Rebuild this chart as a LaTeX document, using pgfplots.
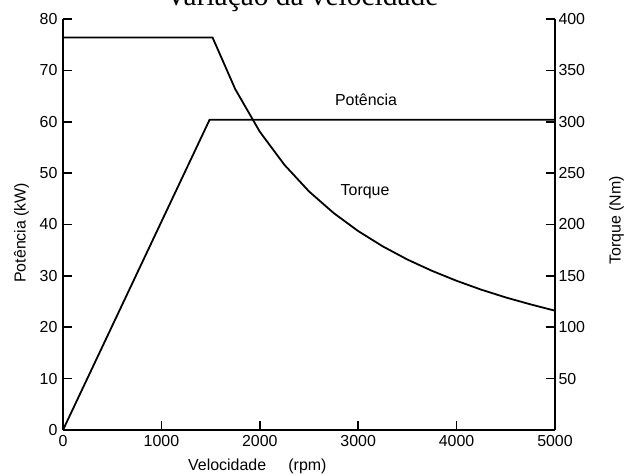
\documentclass[border=0pt]{standalone}
\usepackage{fontspec}
\setmainfont{Liberation Sans}
\newfontfamily\titlefont{Liberation Serif}
\usepackage{pgfplots}
\pgfplotsset{compat=1.18}

\pgfplotsset{
  motor/.style={
    scale only axis,
    width=492bp, height=411bp,
    xmin=0, xmax=5000,
    axis line style={-, line width=2.4bp},
    tick style={line width=1.6bp, black},
    major tick length=9bp,
    tick align=inside,
    ticklabel style={font=\fontsize{16}{18}\selectfont},
    label style={font=\fontsize{16}{18}\selectfont},
    /pgf/number format/assume math mode=true,
    /pgf/number format/1000 sep={},
  }
}

\begin{document}
\begin{tikzpicture}
% potencia, eixo esquerdo
\begin{axis}[
  motor, name=main,
  axis x line*=bottom, axis y line*=left,
  ymin=0, ymax=80,
  xtick={0,1000,2000,3000,4000,5000},
  ytick={0,10,...,80},
  xticklabel style={yshift=-2bp},
  yticklabel style={xshift=-2bp},
  xlabel={Velocidade\hspace{1.4em}(rpm)},
  xlabel style={at={(ticklabel cs:0.395,5bp)}},
  ylabel={Potência (kW)},
  ylabel style={at={(ticklabel cs:0.48,4bp)}},
]
\addplot[black, line width=1.8bp] coordinates {
  (0,0) (1490,60.4) (5000,60.4)
};
\node[font=\fontsize{16}{18}\selectfont] at (axis cs:3080,64.2) {Potência};
\node[font=\fontsize{16}{18}\selectfont] at (axis cs:3070,46.3) {Torque};
\end{axis}

% torque, eixo direito
\begin{axis}[
  motor,
  hide x axis,
  axis y line*=right,
  ymin=0, ymax=400,
  ytick={50,100,...,400},
  ylabel={Torque (Nm)},
  ylabel style={at={(ticklabel cs:0.51,17bp)}},
]
\addplot[black, line width=1.8bp] coordinates {
  (0,382) (1520,382) (1750,331.8) (2000,290.3) (2250,258.1)
  (2500,232.2) (2750,211.2) (3000,193.6) (3250,178.7)
  (3500,165.9) (3750,154.9) (4000,145.2) (4250,136.6)
  (4500,129.0) (4750,122.3) (5000,116.1)
};
\end{axis}

\node[anchor=base, font=\titlefont\fontsize{29.5}{32}\selectfont]
  at ([shift={(-7bp,13bp)}]main.north) {Variação da velocidade};

\pgfresetboundingbox
\path[use as bounding box]
  ([shift={(-63bp,-45bp)}]main.south west) rectangle
  ([shift={(565bp,430bp)}]main.south west);
\end{tikzpicture}
\end{document}
